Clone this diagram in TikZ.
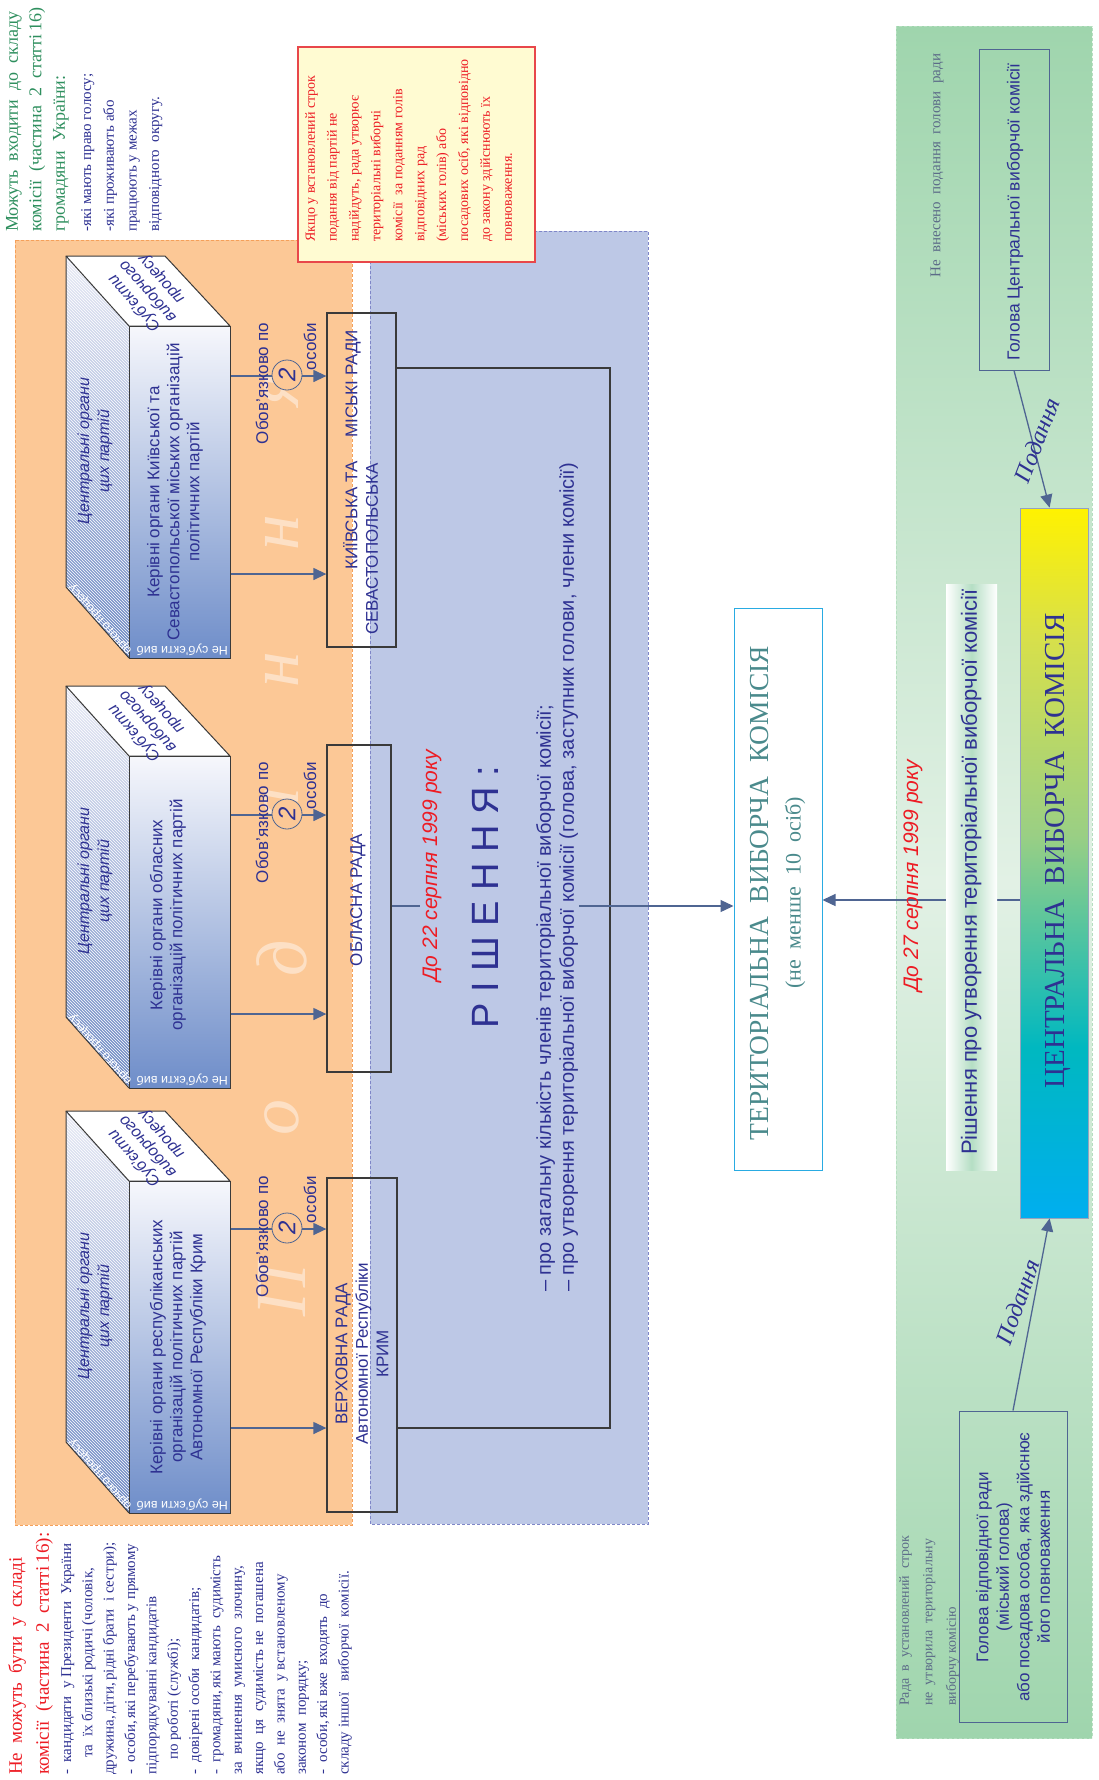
\documentclass[tikz,border=0pt]{standalone}
\usepackage{fontspec}
\setmainfont{Liberation Serif}
\setsansfont{Liberation Sans}
\usetikzlibrary{arrows.meta,patterns,calc}
\definecolor{cNavy}{HTML}{2E3192}
\definecolor{cRed}{HTML}{ED1C24}
\definecolor{cGreenT}{HTML}{2E8F5E}
\definecolor{cPeach}{HTML}{FCC896}
\definecolor{cPeachB}{HTML}{F5A05A}
\definecolor{cLav}{HTML}{BDC8E6}
\definecolor{cLavB}{HTML}{7F86C8}
\definecolor{cArr}{HTML}{4F6592}
\definecolor{cBord}{HTML}{3A3A3A}
\definecolor{cGrayT}{HTML}{5C6B88}
\definecolor{cTealT}{HTML}{4A8A8C}
\definecolor{cCyanB}{HTML}{29ABE2}
\definecolor{cGreenBg}{HTML}{9FD5AD}
\definecolor{cGreenLt}{HTML}{E2F1E5}
\definecolor{cGreenDash}{HTML}{B5DFC0}
\definecolor{cNoteF}{HTML}{FFFBD2}
\definecolor{cNoteB}{HTML}{E8474A}
\definecolor{cFaceBot}{HTML}{6E8DC9}
\definecolor{cFaceTop}{HTML}{F6F7FC}
\definecolor{cSideTop}{HTML}{E8EAF5}
\definecolor{cSideBot}{HTML}{6A86C2}
\definecolor{cRishG}{HTML}{B5DEC4}
\definecolor{cCVKbot}{HTML}{00AEEF}
\definecolor{cCVKteal}{HTML}{00B8C0}
\definecolor{cCVKgreen}{HTML}{9ACF84}
\definecolor{cCVKyg}{HTML}{D8E04A}
\definecolor{cCVKtop}{HTML}{FFF200}
\pgfdeclareverticalshading{cvkshade}{100bp}{color(0bp)=(cCVKbot); color(25bp)=(cCVKbot); color(37bp)=(cCVKteal); color(52bp)=(cCVKgreen); color(66bp)=(cCVKyg); color(75bp)=(cCVKtop); color(100bp)=(cCVKtop)}
\tikzset{
  rt/.style={rotate=90, inner sep=0pt},
  conn/.style={draw=cArr, line width=1.3pt, -{Triangle[length=13pt,width=12pt]}},
  bracketln/.style={draw=cBord, line width=1.4pt},
  radabox/.style={draw=cBord, line width=1.3pt, inner sep=0pt},
  edgeln/.style={draw=cBord, line width=1pt, line join=round},
  frontface/.style={draw=cBord, line width=1pt, inner sep=0pt, minimum width=101pt, minimum height=332pt, top color=cFaceTop, bottom color=cFaceBot},
  bluebox/.style={draw=cArr, line width=1pt, inner sep=0pt},
}
\newcommand\cubox[5]{%
  \shade[top color=cSideTop, bottom color=cSideBot] (66,#2-70) -- (129,#2) -- (129,#2+332) -- (66,#2+261) -- cycle;
  \fill[pattern=north west lines, pattern color=white] (66,#2-70) -- (129,#2) -- (129,#2+332) -- (66,#2+261) -- cycle;
  \draw[edgeln] (66,#2-70) -- (66,#2+261) -- (129,#2+332);
  \filldraw[edgeln, fill=white] (66,#2-70) -- (165,#2-70) -- (230,#2) -- (129,#2) -- cycle;
  \node[frontface, anchor=north west] (f#1) at (129,#2) {};
  \node[rt, align=center, font=\sffamily\fontsize{17}{20}\selectfont, text=cNavy] (ft#1) at (#4,#5) {#3};
  \node[rt, align=center, font=\sffamily\itshape\fontsize{16}{20}\selectfont, text=cNavy] (st#1) at (95,#2+125) {Центральні органи\\цих партій};
  \node[rotate=180, anchor=north west, inner sep=0pt, font=\sffamily\fontsize{12.5}{12.5}\selectfont, text=white] (nb#1) at (228,#2+330) {Не суб’єкти виб};
  \node[rotate=131.6, anchor=north west, inner sep=0pt, font=\sffamily\fontsize{12.5}{12.5}\selectfont, text=white] (nd#1) at (127,#2+329) {орчого процесу};
  \node[rotate=131.6, align=center, inner sep=0pt, font=\sffamily\itshape\fontsize{16}{18}\selectfont, text=cNavy] (tt#1) at (148,#2-35) {Суб’єкти\\виборчого\\процесу};
}
\newcommand\oblabel[2]{%
  \node[circle, draw=cArr, fill=cPeach, line width=0.8pt, minimum size=30pt, inner sep=0pt, rotate=90, font=\sffamily\itshape\fontsize{24}{24}\selectfont, text=cNavy] (c#1) at (287,#2-1) {2};
  \node[rt, anchor=east, font=\sffamily\fontsize{17}{17}\selectfont, text=cNavy] (ob#1) at (262,#2-53) {Обов’язково по};
  \node[rt, anchor=east, font=\sffamily\fontsize{17}{17}\selectfont, text=cNavy] (os#1) at (310,#2-53) {особи};
}
\begin{document}
\begin{tikzpicture}[x=1pt,y=-1pt]
\useasboundingbox (0,0) rectangle (1099,1780);
\fill[white] (0,0) rectangle (1099,1780);

% background regions
\filldraw[fill=cPeach, draw=cPeachB, line width=1pt, dash pattern=on 3pt off 2pt] (15,240) rectangle (352,1525);
\filldraw[fill=cLav, draw=cLavB, line width=1pt, dash pattern=on 3pt off 2pt] (370,231) rectangle (648,1524);
\shade[top color=cGreenBg, bottom color=cGreenBg, middle color=cGreenLt] (896,26) rectangle (1092,1738);
\draw[cGreenDash, line width=1pt, dash pattern=on 3pt off 2pt] (896,26) rectangle (1092,1738);

% faded word
\foreach \ch/\yy [count=\i] in {П/1290, о/1117, д/958, а/805, н/670, н/533, я/390}
  \node[rt, text=white, text opacity=0.45, font=\rmfamily\itshape\fontsize{72}{72}\selectfont] (wm\i) at (282,\yy) {\ch};

% note
\node[draw=cNoteB, fill=cNoteF, line width=1.2pt, minimum width=237pt, minimum height=215pt, inner sep=0pt] (note) at (416.5,154.5) {};
\node[rt, anchor=north west, align=left, font=\rmfamily\fontsize{14}{21.9}\selectfont, text=cRed] (noteT) at (305,242) {Якщо у встановлений строк\\подання від партій не\\надійдуть, рада утворює\\територіальні виборчі\\комісії\ \ за поданням голів\\відповідних рад\\(міських голів) або\\посадових осіб, які відповідно\\до закону здійснюють їх\\повноваження.};

% top-left text
\node[rt, anchor=north west, align=left, font=\rmfamily\fontsize{18}{23.5}\selectfont, text=cGreenT] (canA) at (6,232) {Можуть\ \ входити\ \ до\ \ складу\\комісії\ \ (частина\ \ 2\ \ статті\,16)\\громадяни\ \ України:};
\node[rt, anchor=north west, align=left, font=\rmfamily\fontsize{15}{22.7}\selectfont, text=cNavy] (canB) at (81,232) {-які мають право голосу;\\-які проживають або\\працюють у межах\\відповідного\ \ округу.};

% bottom-left text
\node[rt, anchor=north west, align=left, font=\rmfamily\fontsize{19}{27}\selectfont, text=cRed] (cantA) at (8,1775) {Не\ \ можуть\ \ бути\ \ у\ \ складі\\комісії\ \ (частина\ \ 2\ \ статті\,16):};
\node[rt, anchor=north west, align=left, font=\rmfamily\fontsize{15}{21.35}\selectfont, text=cNavy] (cantB) at (61,1775) {-\ \ кандидати\ \ у\ Президенти\ \ України\\\hspace{17pt}та\ \ їх\ близькі\ родичі\ (чоловік,\\дружина,\,діти,\,рідні\ брати\ \ і\ сестри);\\-\ \ особи,\,які\ перебувають\ у\ прямому\\підпорядкуванні\ кандидатів\\\hspace{15pt}по\ роботі\ (службі);\\-\ \ довірені\ особи\ \ кандидатів;\\-\ \ громадяни,\,які\ мають\ \ судимість\\за\ \ вчинення\ \ умисного\ \ злочину,\\якщо\ \ ця\ \ судимість\ не\ \ погашена\\або\ \ не\ \ знята\ \ у\ встановленому\\законом\ \ порядку;\\-\ \ особи,\,які\ вже\ \ входять\ \ до\\складу\ іншої\ \ \ виборчої\ \ комісії.};

% cuboids
\cubox{1}{326}{Керівні органи Київської та\\Севастопольської міських організацій\\політичних партій}{175}{492}
\cubox{2}{756}{Керівні органи обласних\\організацій політичних партій}{168}{915}
\cubox{3}{1181}{Керівні органи республіканських\\організацій політичних партій\\Автономної Республіки Крим}{178}{1347}

% rada boxes
\node[radabox, minimum width=69pt, minimum height=334pt] (kyiv) at (361.5,480) {};
\node[radabox, minimum width=64pt, minimum height=327pt] (obl) at (359,908.5) {};
\node[radabox, minimum width=70pt, minimum height=334pt] (verkh) at (362,1345) {};
\node[rt, anchor=west, font=\sffamily\fontsize{17}{17}\selectfont, text=cNavy] (kyivA) at (352,570) {КИЇВСЬКА ТА\hspace{24pt}МІСЬКІ РАДИ};
\node[rt, anchor=west, font=\sffamily\fontsize{17}{17}\selectfont, text=cNavy] (kyivB) at (372,635) {СЕВАСТОПОЛЬСЬКА};
\node[rt, font=\sffamily\fontsize{17}{17}\selectfont, text=cNavy] (oblT) at (358,900) {ОБЛАСНА РАДА};
\node[rt, align=center, font=\sffamily\fontsize{17}{20.5}\selectfont, text=cNavy] (verkhT) at (362,1354) {ВЕРХОВНА РАДА\\Автономної Республіки\\КРИМ};

% arrows from party bodies
\coordinate (a1u) at (0,376);  \coordinate (a1d) at (0,574);
\coordinate (a2u) at (0,815);  \coordinate (a2d) at (0,1014);
\coordinate (a3u) at (0,1229); \coordinate (a3d) at (0,1428);
\draw[conn] (f1.east |- a1u) -- (kyiv.west |- a1u);
\draw[conn] (f1.east |- a1d) -- (kyiv.west |- a1d);
\draw[conn] (f2.east |- a2u) -- (obl.west |- a2u);
\draw[conn] (f2.east |- a2d) -- (obl.west |- a2d);
\draw[conn] (f3.east |- a3u) -- (verkh.west |- a3u);
\draw[conn] (f3.east |- a3d) -- (verkh.west |- a3d);
\oblabel{1}{376}
\oblabel{2}{815}
\oblabel{3}{1229}

% bracket
\coordinate (bkT) at (610,368);
\coordinate (bkB) at (610,1428);
\draw[bracketln] (kyiv.east |- bkT) -- (bkT) -- (bkB) -- (verkh.east |- bkB);

% territorial commission
\node[draw=cCyanB, fill=white, line width=1pt, minimum width=88pt, minimum height=562pt, inner sep=0pt] (terr) at (778,889) {};
\node[rt, font=\rmfamily\fontsize{27.5}{27.5}\selectfont, text=cTealT] (terrA) at (760,893) {ТЕРИТОРІАЛЬНА\ \ ВИБОРЧА\ \ КОМІСІЯ};
\node[rt, font=\rmfamily\fontsize{22}{22}\selectfont, text=cTealT] (terrB) at (795,893) {(не\ \ менше\ \ 10\ \ осіб)};

\coordinate (y906) at (0,906);
\draw[conn] (obl.east |- y906) -- (terr.west |- y906);
\node[fill=cLav, minimum width=159pt, minimum height=860pt, inner sep=0pt] (rishbg) at (499.5,870) {};
\node[rt, font=\sffamily\itshape\fontsize{21}{21}\selectfont, text=cRed] (d22) at (432,866) {До 22 серпня 1999 року};
\node[rt, font=\sffamily\fontsize{38}{38}\selectfont, text=cNavy] (rish) at (485,897) {Р І Ш Е Н Н Я :};
\node[rt, anchor=north west, align=left, font=\sffamily\fontsize{20}{23}\selectfont, text=cNavy] (rishL) at (536,1292) {– про загальну кількість членів територіальної виборчої комісії;\\– про утворення територіальної виборчої комісії (голова, заступник голови, члени комісії)};

% CVK
\node[draw=cArr!60, line width=0.8pt, shading=cvkshade, minimum width=68pt, minimum height=710pt, inner sep=0pt] (cvk) at (1054,863) {};
\node[rt, font=\rmfamily\fontsize{29}{29}\selectfont, text=cNavy] (cvkT) at (1058,851) {ЦЕНТРАЛЬНА\ \ ВИБОРЧА\ \ КОМІСІЯ};
\coordinate (y900) at (0,900);
\draw[conn] (cvk.west |- y900) -- (terr.east |- y900);
\node[left color=white, right color=white, middle color=cRishG, minimum width=51pt, minimum height=586pt, inner sep=0pt] (rishc) at (971.5,877) {};
\node[rt, font=\sffamily\fontsize{22}{22}\selectfont, text=cNavy] (rishcT) at (971,872) {Рішення про утворення територіальної виборчої комісії};
\node[rt, font=\sffamily\itshape\fontsize{21}{21}\selectfont, text=cRed] (d27) at (913,876) {До 27 серпня 1999 року};

% heads
\node[bluebox, minimum width=70pt, minimum height=321pt] (gcvk) at (1014,209.5) {};
\node[rt, font=\sffamily\fontsize{17.5}{17.5}\selectfont, text=cNavy] (gcvkT) at (1015,212) {Голова Центральної виборчої комісії};
\node[bluebox, minimum width=108pt, minimum height=311pt] (gvr) at (1013,1566.5) {};
\node[rt, align=center, font=\sffamily\fontsize{17}{20.5}\selectfont, text=cNavy] (gvrT) at (1013,1567) {Голова відповідної ради\\(міський голова)\\або посадова особа, яка здійснює\\його повноваження};
\node[rt, anchor=west, font=\rmfamily\fontsize{15}{15}\selectfont, text=cGrayT] (nevn) at (937,278) {Не\ \ внесено\ \ подання\ \ голови\ \ ради};
\node[rt, anchor=north west, align=left, font=\rmfamily\fontsize{14}{23.5}\selectfont, text=cGrayT] (radaT) at (899,1706) {Рада\ \ в\ \ установлений\ \ строк\\не\ \ утворила\ \ територіальну\\виборчу комісію};

\draw[conn] (gcvk.south) -- ($(cvk.north west)+(30,0)$);
\draw[conn] (gvr.north) -- ($(cvk.south west)+(30,0)$);
\node[rotate=69, inner sep=0pt, font=\rmfamily\itshape\fontsize{24}{24}\selectfont, text=cNavy] (pod1) at (1037,440) {Подання};
\node[rotate=70, inner sep=0pt, font=\rmfamily\itshape\fontsize{24}{24}\selectfont, text=cNavy] (pod2) at (1018,1302) {Подання};
\end{tikzpicture}
\end{document}
